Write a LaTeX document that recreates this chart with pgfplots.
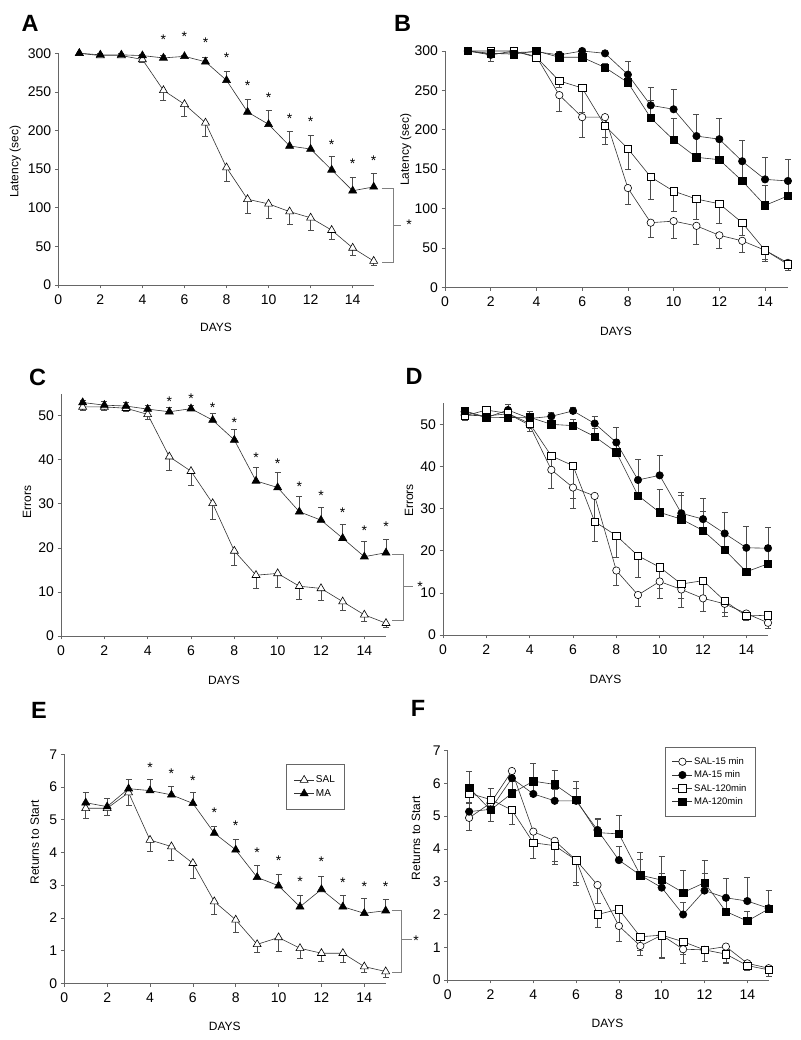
\documentclass[border=0pt]{standalone}
\usepackage{fontspec}
\setmainfont{Liberation Sans}
\usepackage{pgfplots}
\pgfplotsset{compat=1.18}

\definecolor{axgray}{gray}{0.4}
\definecolor{ebgray}{gray}{0.3}
\definecolor{lngray}{gray}{0.2}
\definecolor{brgray}{gray}{0.5}

\pgfplotsset{
  panel/.style={
    scale only axis, anchor=south west, clip=false,
    axis x line*=bottom, axis y line*=left,
    axis line style={axgray, line width=0.7pt},
    every tick/.style={axgray, line width=0.7pt},
    tick align=outside, major tick length=3.5pt,
    xmin=0, xmax=15, xtick={0,2,...,14}, ymin=0,
    ticklabel style={font=\fontsize{14}{14}\selectfont, text=black},
    xticklabel style={yshift=-2.5pt},
    /pgf/number format/assume math mode=true,
    legend image code/.code={\draw[mark repeat=2, mark phase=2, ##1] plot coordinates {(0pt,0pt) (10pt,0pt) (20pt,0pt)};},
  },
  openTri/.style={lngray, line width=0.6pt, mark=triangle*, mark size=4.6pt, mark options={draw=black, fill=white, line width=0.6pt, solid}},
  fillTri/.style={lngray, line width=0.6pt, mark=triangle*, mark size=4.6pt, mark options={draw=black, fill=black, line width=0.6pt, solid}},
  openCirc/.style={lngray, line width=0.6pt, mark=*, mark size=3.7pt, mark options={draw=black, fill=white, line width=0.6pt, solid}},
  fillCirc/.style={lngray, line width=0.6pt, mark=*, mark size=3.7pt, mark options={draw=black, fill=black, line width=0.6pt, solid}},
  openSq/.style={lngray, line width=0.6pt, mark=square*, mark size=3.7pt, mark options={draw=black, fill=white, line width=0.6pt, solid}},
  fillSq/.style={lngray, line width=0.6pt, mark=square*, mark size=3.7pt, mark options={draw=black, fill=black, line width=0.6pt, solid}},
  ebup/.style={error bars/.cd, y dir=plus, y explicit, error bar style={ebgray, line width=0.6pt}, error mark options={ebgray, line width=0.6pt, mark size=3pt, rotate=90}},
  ebdn/.style={error bars/.cd, y dir=minus, y explicit, error bar style={ebgray, line width=0.6pt}, error mark options={ebgray, line width=0.6pt, mark size=3pt, rotate=90}},
}
\tikzset{
  star/.style={font=\fontsize{14}{14}\selectfont, anchor=base, yshift=-8pt, inner sep=0pt},
  lbl/.style={font=\fontsize{12}{12}\selectfont},
  letter/.style={font=\bfseries\fontsize{23.5}{23.5}\selectfont},
  bracket/.style={brgray, line width=0.8pt},
}

\begin{document}
\begin{tikzpicture}[x=1pt, y=1pt]
\path[use as bounding box] (0pt,0pt) rectangle (800pt,1040pt);

% ---------------- Panel A ----------------
\begin{axis}[panel, at={(58.3pt,755pt)}, width=315.4pt, height=231.7pt,
  ymax=300, ytick={0,50,...,300}]
\addplot[openTri, ebdn] table[x=d, y=v, y error=e, row sep=\\] {d v e\\
1 300 0\\ 2 297 2\\ 3 297 2\\ 4 292 4\\ 5 252 13\\ 6 234 16\\ 7 210 17\\ 8 152 18\\
9 111 18\\ 10 105 19\\ 11 95 17\\ 12 87 16\\ 13 71 12\\ 14 48 9\\ 15 31 5\\};
\addplot[fillTri, ebup] table[x=d, y=v, y error=e, row sep=\\] {d v e\\
1 300 0\\ 2 298 2\\ 3 298 2\\ 4 297 2\\ 5 294 3\\ 6 296 2\\ 7 289 6\\ 8 265 12\\
9 224 16\\ 10 208 18.5\\ 11 180 18.5\\ 12 176 18\\ 13 149 18\\ 14 122 17.5\\ 15 127 17.5\\};
\node[star] at (axis cs:5,322) {*};
\node[star] at (axis cs:6,325) {*};
\node[star] at (axis cs:7,318) {*};
\node[star] at (axis cs:8,298) {*};
\node[star] at (axis cs:9,262) {*};
\node[star] at (axis cs:10,247) {*};
\node[star] at (axis cs:11,220) {*};
\node[star] at (axis cs:12,215) {*};
\node[star] at (axis cs:13,186) {*};
\node[star] at (axis cs:14,161) {*};
\node[star] at (axis cs:15,165) {*};
\end{axis}

% ---------------- Panel B ----------------
\begin{axis}[panel, at={(445pt,752.7pt)}, width=342.9pt, height=236.3pt,
  ymax=300, ytick={0,50,...,300}]
\addplot[openCirc, ebdn] table[x=d, y=v, y error=e, row sep=\\] {d v e\\
1 300 2\\ 2 295 8\\ 3 300 3\\ 4 293 3\\ 5 244 20\\ 6 216 25\\ 7 216 25\\ 8 126 21\\
9 82 18\\ 10 84 22\\ 11 78 24\\ 12 66 16\\ 13 59 15\\ 14 47 12\\ 15 31 5\\};
\addplot[fillCirc, ebup] table[x=d, y=v, y error=e, row sep=\\] {d v e\\
1 300 2\\ 2 296 2\\ 3 298 2\\ 4 299 2\\ 5 295 4\\ 6 300 2\\ 7 297 3\\ 8 270 17\\
9 231 23\\ 10 226 25\\ 11 192 27\\ 12 188 26\\ 13 160 26\\ 14 137 28\\ 15 135 27\\};
\addplot[openSq, ebdn] table[x=d, y=v, y error=e, row sep=\\] {d v e\\
1 300 2\\ 2 300 4\\ 3 300 3\\ 4 292 4\\ 5 262 8\\ 6 253 31\\ 7 205 24\\ 8 176 26\\
9 140 28\\ 10 122 25\\ 11 112 26\\ 12 106 25\\ 13 82 16\\ 14 47 14\\ 15 29 7\\};
\addplot[fillSq, ebup] table[x=d, y=v, y error=e, row sep=\\] {d v e\\
1 300 2\\ 2 297 2\\ 3 296 2\\ 4 300 2\\ 5 292 4\\ 6 292 3\\ 7 279 6\\ 8 260 13\\
9 215 22\\ 10 187 28\\ 11 165 25\\ 12 162 24\\ 13 135 25\\ 14 104 26\\ 15 116 20\\};
\end{axis}

% ---------------- Panel C ----------------
\begin{axis}[panel, at={(61pt,404pt)}, width=325pt, height=242.3pt,
  ymax=55, ytick={0,10,...,50}]
\addplot[openTri, ebdn] table[x=d, y=v, y error=e, row sep=\\] {d v e\\
1 52.0 0.8\\ 2 52.0 0.8\\ 3 51.7 0.8\\ 4 50.3 1.1\\ 5 40.7 3.0\\ 6 37.4 3.3\\ 7 30.1 3.5\\ 8 19.3 3.2\\
9 13.8 3.0\\ 10 14.2 3.2\\ 11 11.3 2.9\\ 12 10.8 2.6\\ 13 7.8 1.9\\ 14 4.8 1.4\\ 15 2.9 1.0\\};
\addplot[fillTri, ebup] table[x=d, y=v, y error=e, row sep=\\] {d v e\\
1 53.0 0.6\\ 2 52.4 0.8\\ 3 52.2 0.8\\ 4 51.5 0.8\\ 5 50.9 1.0\\ 6 51.6 0.8\\ 7 49.0 1.5\\ 8 44.5 2.4\\
9 35.2 3.1\\ 10 33.7 3.4\\ 11 28.2 3.6\\ 12 26.3 3.0\\ 13 22.2 3.1\\ 14 18.0 3.4\\ 15 18.9 3.0\\};
\node[star] at (axis cs:5,53.8) {*};
\node[star] at (axis cs:6,54.5) {*};
\node[star] at (axis cs:7,52.6) {*};
\node[star] at (axis cs:8,49.2) {*};
\node[star] at (axis cs:9,41.1) {*};
\node[star] at (axis cs:10,39.9) {*};
\node[star] at (axis cs:11,34.6) {*};
\node[star] at (axis cs:12,32.5) {*};
\node[star] at (axis cs:13,28.6) {*};
\node[star] at (axis cs:14,24.7) {*};
\node[star] at (axis cs:15,25.6) {*};
\end{axis}

% ---------------- Panel D ----------------
\begin{axis}[panel, at={(443pt,405pt)}, width=325pt, height=231.7pt,
  ymax=55, ytick={0,10,...,50}]
\addplot[openCirc, ebdn] table[x=d, y=v, y error=e, row sep=\\] {d v e\\
1 52.2 1.0\\ 2 52.0 1.0\\ 3 52.5 1.0\\ 4 49.8 1.5\\ 5 39.2 4.4\\ 6 35.0 5.0\\ 7 33.0 5.5\\ 8 15.3 3.4\\
9 9.5 2.8\\ 10 12.7 4.0\\ 11 10.8 4.2\\ 12 8.7 3.0\\ 13 7.4 2.9\\ 14 5.1 1.7\\ 15 2.9 1.3\\};
\addplot[fillCirc, ebup] table[x=d, y=v, y error=e, row sep=\\] {d v e\\
1 53.0 1.0\\ 2 51.6 1.0\\ 3 53.4 1.3\\ 4 51.4 1.6\\ 5 51.9 1.0\\ 6 53.2 0.8\\ 7 50.2 1.6\\ 8 45.7 3.5\\
9 36.8 4.9\\ 10 37.9 4.7\\ 11 28.9 5.0\\ 12 27.5 4.9\\ 13 24.1 5.0\\ 14 20.7 5.0\\ 15 20.6 4.9\\};
\addplot[openSq, ebdn] table[x=d, y=v, y error=e, row sep=\\] {d v e\\
1 52.0 1.0\\ 2 53.4 1.0\\ 3 52.6 1.0\\ 4 50.2 1.8\\ 5 42.5 3.0\\ 6 40.2 7.8\\ 7 26.9 4.7\\ 8 23.6 5.2\\
9 18.8 5.2\\ 10 16.1 5.0\\ 11 12.1 3.4\\ 12 12.9 4.0\\ 13 8.1 2.6\\ 14 4.5 1.0\\ 15 4.7 0.7\\};
\addplot[fillSq, ebup] table[x=d, y=v, y error=e, row sep=\\] {d v e\\
1 53.2 0.8\\ 2 51.7 1.0\\ 3 51.6 1.0\\ 4 51.7 1.0\\ 5 50.0 1.5\\ 6 49.7 1.5\\ 7 47.1 2.0\\ 8 43.4 3.0\\
9 33.1 4.0\\ 10 29.1 5.5\\ 11 27.5 5.6\\ 12 24.8 4.6\\ 13 20.2 4.5\\ 14 15.0 5.5\\ 15 16.9 4.5\\};
\end{axis}

% ---------------- Panel E ----------------
\begin{axis}[panel, at={(64.3pt,56.7pt)}, width=321.4pt, height=229pt,
  ymax=7, ytick={0,1,...,7},
  legend style={at={(axis cs:10.33,6.70)}, anchor=north west, draw=black!60,
    font=\fontsize{10}{10}\selectfont, inner xsep=8pt, inner ysep=10pt, row sep=2pt,
    nodes={inner sep=1.5pt, text height=7pt, text depth=1.5pt}},
  legend cell align=left]
\addplot[openTri, ebdn] table[x=d, y=v, y error=e, row sep=\\] {d v e\\
1 5.35 0.31\\ 2 5.35 0.21\\ 3 5.83 0.38\\ 4 4.38 0.36\\ 5 4.18 0.41\\ 6 3.67 0.46\\ 7 2.50 0.38\\ 8 1.94 0.38\\
9 1.19 0.24\\ 10 1.40 0.43\\ 11 1.07 0.31\\ 12 0.92 0.26\\ 13 0.92 0.28\\ 14 0.51 0.18\\ 15 0.36 0.19\\};
\addplot[fillTri, ebup] table[x=d, y=v, y error=e, row sep=\\] {d v e\\
1 5.52 0.32\\ 2 5.40 0.26\\ 3 5.95 0.29\\ 4 5.89 0.35\\ 5 5.76 0.27\\ 6 5.50 0.33\\ 7 4.59 0.22\\ 8 4.08 0.32\\
9 3.24 0.38\\ 10 2.98 0.36\\ 11 2.34 0.36\\ 12 2.87 0.39\\ 13 2.34 0.34\\ 14 2.14 0.46\\ 15 2.22 0.34\\};
\legend{SAL, MA}
\node[star] at (axis cs:4,6.70) {*};
\node[star] at (axis cs:5,6.52) {*};
\node[star] at (axis cs:6,6.30) {*};
\node[star] at (axis cs:7,5.30) {*};
\node[star] at (axis cs:8,4.91) {*};
\node[star] at (axis cs:9,4.10) {*};
\node[star] at (axis cs:10,3.85) {*};
\node[star] at (axis cs:11,3.20) {*};
\node[star] at (axis cs:12,3.80) {*};
\node[star] at (axis cs:13,3.18) {*};
\node[star] at (axis cs:14,3.06) {*};
\node[star] at (axis cs:15,3.04) {*};
\end{axis}

% ---------------- Panel F ----------------
\begin{axis}[panel, at={(447.7pt,60pt)}, width=321pt, height=229.3pt,
  ymax=7, ytick={0,1,...,7},
  legend style={at={(axis cs:10.15,7.12)}, anchor=north west, draw=black!60,
    font=\fontsize{9.5}{9.5}\selectfont, inner xsep=7pt, inner ysep=9pt, row sep=1.8pt,
    nodes={inner sep=1.5pt, text height=7pt, text depth=1.5pt}},
  legend cell align=left]
\addplot[openCirc, ebdn] table[x=d, y=v, y error=e, row sep=\\] {d v e\\
1 4.95 0.37\\ 2 5.40 0.30\\ 3 6.38 0.30\\ 4 4.53 0.30\\ 5 4.25 0.64\\ 6 3.66 0.69\\ 7 2.90 0.56\\ 8 1.65 0.48\\
9 1.04 0.28\\ 10 1.37 0.68\\ 11 0.94 0.43\\ 12 0.92 0.36\\ 13 1.02 0.49\\ 14 0.51 0.21\\ 15 0.36 0.26\\};
\addplot[fillCirc, ebup] table[x=d, y=v, y error=e, row sep=\\] {d v e\\
1 5.14 0.30\\ 2 5.21 0.30\\ 3 6.16 0.25\\ 4 5.68 0.30\\ 5 5.47 0.35\\ 6 5.47 0.38\\ 7 4.58 0.35\\ 8 3.66 0.41\\
9 3.20 0.48\\ 10 2.82 0.44\\ 11 2.00 0.36\\ 12 2.73 0.53\\ 13 2.51 0.58\\ 14 2.41 0.71\\ 15 2.19 0.54\\};
\addplot[openSq, ebdn] table[x=d, y=v, y error=e, row sep=\\] {d v e\\
1 5.70 0.30\\ 2 5.51 0.68\\ 3 5.19 0.44\\ 4 4.19 0.48\\ 5 4.10 0.56\\ 6 3.66 0.76\\ 7 2.00 0.39\\ 8 2.16 0.45\\
9 1.32 0.40\\ 10 1.37 0.70\\ 11 1.17 0.40\\ 12 0.92 0.35\\ 13 0.79 0.27\\ 14 0.44 0.15\\ 15 0.31 0.20\\};
\addplot[fillSq, ebup] table[x=d, y=v, y error=e, row sep=\\] {d v e\\
1 5.87 0.49\\ 2 5.19 0.66\\ 3 5.70 0.50\\ 4 6.07 0.55\\ 5 5.97 0.44\\ 6 5.51 0.56\\ 7 4.50 0.40\\ 8 4.46 0.56\\
9 3.20 0.70\\ 10 3.05 0.72\\ 11 2.67 0.67\\ 12 2.97 0.69\\ 13 2.09 0.45\\ 14 1.80 0.30\\ 15 2.17 0.58\\};
\legend{SAL-15 min, MA-15 min, SAL-120min, MA-120min}
\end{axis}

% ---------------- labels ----------------
\node[letter] at (30,1016.7) {A};
\node[letter] at (402.5,1016.7) {B};
\node[letter] at (37.5,663) {C};
\node[letter] at (414,663.5) {D};
\node[letter] at (39,329.5) {E};
\node[letter] at (418,332) {F};

\node[lbl, rotate=90] at (15.3,878.3) {Latency (sec)};
\node[lbl, rotate=90] at (405.8,890) {Latency (sec)};
\node[lbl, rotate=90] at (27,538.3) {Errors};
\node[lbl, rotate=90] at (409,539.5) {Errors};
\node[lbl, rotate=90] at (34.7,197.5) {Returns to Start};
\node[lbl, rotate=90] at (416,201.7) {Returns to Start};

\node[lbl] at (216,712.3) {DAYS};
\node[lbl] at (616,708.3) {DAYS};
\node[lbl] at (224,360) {DAYS};
\node[lbl] at (605.5,360.7) {DAYS};
\node[lbl] at (224.8,13.3) {DAYS};
\node[lbl] at (607.5,16.7) {DAYS};

% ---------------- brackets ----------------
\draw[bracket] (381.5,852) -- (393.3,852) -- (393.3,778) -- (381.5,778);
\draw[bracket] (393.3,815) -- (401,815);
\node[star] at (409,818) {*};
\draw[bracket] (391.7,485.7) -- (403.3,485.7) -- (403.3,420) -- (391.7,420);
\draw[bracket] (403.3,453.3) -- (413.3,453.3);
\node[star] at (420,456) {*};
\draw[bracket] (391.7,129.3) -- (401.7,129.3) -- (401.7,67.3) -- (391.7,67.3);
\draw[bracket] (401.7,100.7) -- (411.7,100.7);
\node[star] at (416,102.7) {*};
\end{tikzpicture}
\end{document}
